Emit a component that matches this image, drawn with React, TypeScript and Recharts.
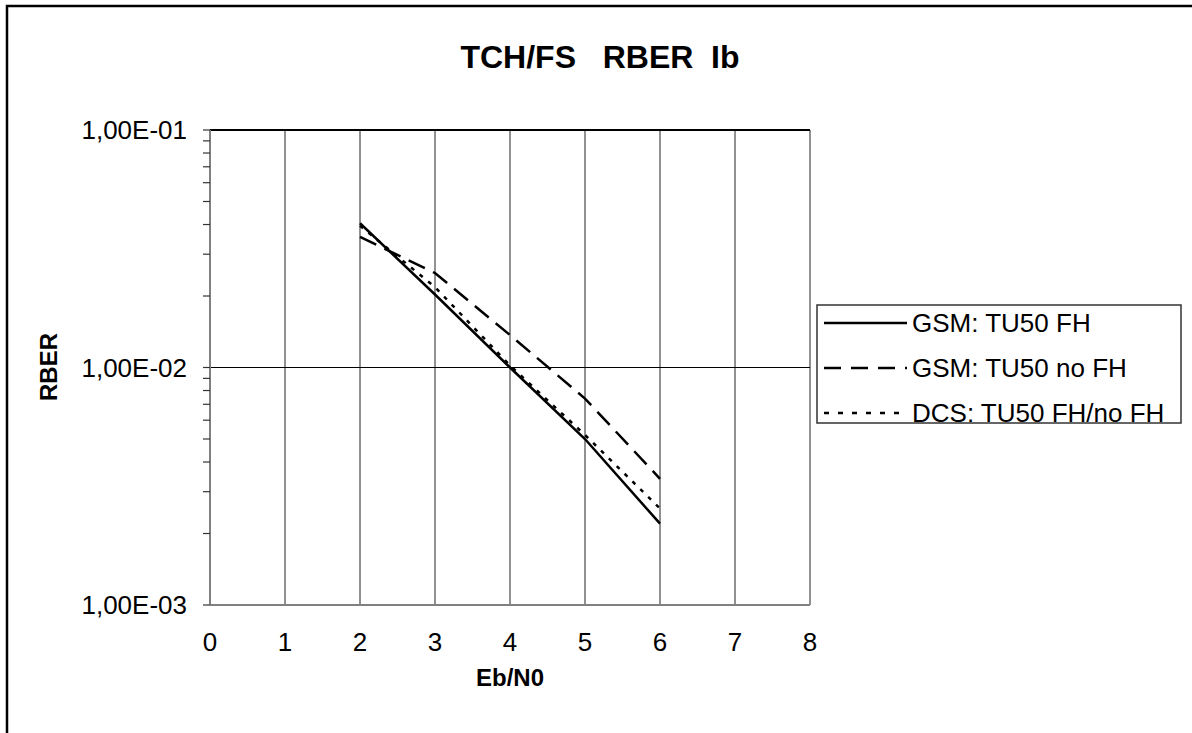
import React from "react";
import {
  LineChart,
  Line,
  XAxis,
  YAxis,
  CartesianGrid,
  ReferenceLine,
} from "recharts";

const ebN0 = [2, 3, 4, 5, 6];
const gsmFh = [0.0405, 0.0203, 0.01, 0.005, 0.0022];
const gsmNoFh = [0.0355, 0.025, 0.0137, 0.0074, 0.0034];
const dcsFh = [0.0395, 0.0218, 0.0102, 0.0052, 0.00255];

const seriesNames = ["GSM: TU50 FH", "GSM: TU50 no FH", "DCS: TU50 FH/no FH"];
const xTicks = [0, 1, 2, 3, 4, 5, 6, 7, 8];
const yMajor = [0.001, 0.01, 0.1];
const yMinor = [
  0.002, 0.003, 0.004, 0.005, 0.006, 0.007, 0.008, 0.009,
  0.02, 0.03, 0.04, 0.05, 0.06, 0.07, 0.08, 0.09,
];
const yLabels = ["1,00E-03", "1,00E-02", "1,00E-01"];

const data = ebN0.map((x, i) => ({
  x,
  gsmFh: gsmFh[i],
  gsmNoFh: gsmNoFh[i],
  dcs: dcsFh[i],
}));

const FONT = "'Liberation Sans', Arial, Helvetica, sans-serif";

const legendDash = ["", "17 10", "5 9"];

const LegendBox = () => (
  <svg width={370} height={120} style={{ display: "block", overflow: "visible" }}>
    <rect x={1} y={1} width={364} height={118} fill="#fff" stroke="#333" strokeWidth={1.5} />
    {seriesNames.map((n, i) => {
      const cy = 19 + i * 45;
      return (
        <g key={n}>
          <line
            x1={8}
            x2={91}
            y1={cy}
            y2={cy}
            stroke="#000"
            strokeWidth={2.5}
            strokeDasharray={legendDash[i] || undefined}
          />
          <text x={96} y={cy} dy="0.36em" fontSize={26} fontFamily={FONT} fill="#000">
            {n}
          </text>
        </g>
      );
    })}
  </svg>
);

const fmtY = (v: number) => {
  const idx = yMajor.indexOf(v);
  return idx >= 0 ? yLabels[idx] : "";
};

const XTick = (props: any) => {
  const { x, y, payload } = props;
  return (
    <text x={x} y={y} dy={46} textAnchor="middle" fontSize={26} fontFamily={FONT} fill="#000">
      {payload.value}
    </text>
  );
};

export default function App() {
  return (
    <div style={{ position: "absolute", left: 0, top: 0, width: 1192, height: 733, background: "#fff" }}>
      <LineChart
        width={1192}
        height={733}
        data={data}
        margin={{ top: 130, right: 382, bottom: 68, left: 110 }}
        style={{ fontFamily: FONT }}
      >
        <rect x={7} y={6} width={1200} height={800} fill="none" stroke="#000" strokeWidth={2.5} />
        <text
          x={600}
          y={60}
          textAnchor="middle"
          dominantBaseline="middle"
          fontSize={32}
          fontWeight="bold"
          fontFamily={FONT}
          style={{ whiteSpace: "pre" }}
        >
          {"TCH/FS   RBER  Ib"}
        </text>
        <text
          x={51}
          y={367}
          textAnchor="middle"
          dominantBaseline="middle"
          fontSize={24}
          fontWeight="bold"
          fontFamily={FONT}
          transform="rotate(-90 51 367)"
        >
          RBER
        </text>
        <text
          x={510}
          y={680}
          textAnchor="middle"
          dominantBaseline="middle"
          fontSize={24}
          fontWeight="bold"
          fontFamily={FONT}
        >
          Eb/N0
        </text>
        <CartesianGrid horizontal={false} vertical={true} stroke="#222" strokeWidth={1} />
        <XAxis
          type="number"
          dataKey="x"
          domain={[0, 8]}
          ticks={xTicks}
          height={60}
          tickSize={0}
          tickMargin={0}
          tickLine={false}
          tick={<XTick />}
          axisLine={{ stroke: "#808080", strokeWidth: 2 }}
          interval={0}
        />
        <YAxis
          type="number"
          scale="log"
          domain={[0.001, 0.1]}
          allowDataOverflow
          ticks={[...yMajor, ...yMinor]}
          tickFormatter={fmtY}
          width={100}
          tickSize={7}
          tickMargin={16}
          interval={0}
          tick={{ fontSize: 26, fill: "#000", fontFamily: FONT }}
          tickLine={{ stroke: "#333", strokeWidth: 1.2 }}
          axisLine={{ stroke: "#808080", strokeWidth: 2 }}
        />
        <ReferenceLine y={0.1} stroke="#000" strokeWidth={2} ifOverflow="visible" />
        <ReferenceLine y={0.01} stroke="#000" strokeWidth={1} />
        <Line
          dataKey="gsmFh"
          name={seriesNames[0]}
          stroke="#000"
          strokeWidth={2.5}
          dot={false}
          type="linear"
          isAnimationActive={false}
        />
        <Line
          dataKey="gsmNoFh"
          name={seriesNames[1]}
          stroke="#000"
          strokeWidth={2.5}
          strokeDasharray="18 9"
          dot={false}
          type="linear"
          isAnimationActive={false}
        />
        <Line
          dataKey="dcs"
          name={seriesNames[2]}
          stroke="#000"
          strokeWidth={2.5}
          strokeDasharray="4 7"
          dot={false}
          type="linear"
          isAnimationActive={false}
        />
      </LineChart>
      <div style={{ position: "absolute", left: 816, top: 304 }}>
        <LegendBox />
      </div>
    </div>
  );
}
